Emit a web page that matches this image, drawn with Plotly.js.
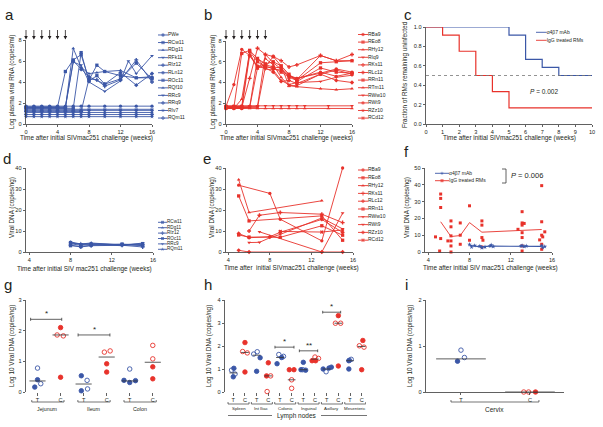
<!DOCTYPE html>
<html><head><meta charset="utf-8">
<script src="https://cdn.plot.ly/plotly-3.0.1.min.js"></script>
<style>html,body{margin:0;padding:0;background:#fff;}#chart{width:603px;height:427px;}</style>
</head><body><div id="chart"></div>
<script>
const n = null;
// ---------------- DATA ----------------
const WEEKS_AB = [0,1,2,3,4,5,6,7,8,9,10,12,13,14,16];
const CHALLENGE_WEEKS = [0,1,2,3,4,5];

// panel a : alpha4beta7 treated, log plasma viral RNA
const NAMES_A = ['PWe','RCw11','RDg11','RFk11','RIz12','RLn12','ROc11','RQf10','RRc9','RRq9','RIv7','RQm11'];
const A_PWE   = [1.7,1.7,1.7,1.7,1.7,1.7,1.7,1.7,1.7,n,1.7,1.7,n,1.7,1.7];
const A_RCW11 = [1.6,1.6,1.6,1.6,1.6,5.0,6.1,6.6,4.2,5.6,5.0,4.6,n,4.4,4.4];
const A_RDG11 = [1.5,1.5,1.5,1.5,1.5,1.5,7.2,5.4,4.8,4.9,5.0,5.1,n,4.4,4.5];
const A_RFK11 = [1.4,1.4,1.4,1.4,1.4,1.4,1.4,1.4,1.4,n,1.4,1.4,n,1.4,1.4];
const A_RIZ12 = [1.6,1.6,1.6,1.6,1.6,1.6,6.0,5.2,4.5,n,3.8,4.9,n,3.7,4.8];
const A_RLN12 = [1.3,1.3,1.3,1.3,1.3,1.3,1.3,1.3,1.3,n,1.3,1.3,n,1.3,1.3];
const A_ROC11 = [1.5,1.5,1.5,1.5,1.5,1.5,1.5,6.8,4.1,4.6,3.8,4.3,n,5.8,4.3];
const A_RQF10 = [1.1,1.1,1.1,1.1,1.1,1.1,1.1,1.1,1.1,n,1.1,1.1,n,1.1,1.1];
const A_RRC9  = [1.6,1.6,1.6,1.6,1.6,1.6,5.9,5.6,4.0,n,3.1,4.1,6.0,4.8,6.5];
const A_RRQ9  = [0.9,0.9,0.9,0.9,0.9,0.9,0.9,0.9,0.9,n,0.9,0.9,n,0.9,0.9];
const A_RIV7  = [0.7,0.7,0.7,0.7,0.7,0.7,0.7,0.7,0.7,n,0.7,0.7,n,0.7,0.7];
const A_RQM11 = [1.2,1.2,1.2,1.2,1.2,1.2,1.2,1.2,4.3,4.2,3.6,4.2,n,6.1,4.0];

// panel b : IgG treated, log plasma viral RNA
const NAMES_B = ['RBa9','REo8','RHy12','RIq9','RKs11','RLc12','RRn11','RTm11','RWw10','RWt9','RZz10','RCd12'];
const B_RBA9  = [1.7,3.8,7.2,6.6,5.6,5.6,5.3,5.2,4.6,4.4,n,4.9,n,5.3,5.0];
const B_REO8  = [1.6,1.6,6.8,7.1,6.3,5.8,6.0,5.6,4.8,4.1,n,5.4,n,5.0,4.9];
const B_RHY12 = [1.5,1.5,2.4,6.9,5.3,6.3,5.7,4.5,3.7,3.6,n,3.4,n,3.3,3.4];
const B_RIQ9  = [1.75,1.75,1.75,1.75,1.75,1.75,1.75,1.75,1.75,1.75,1.75,n,1.75,n,1.75];
const B_RKS11 = [1.6,1.6,1.6,4.4,7.3,6.7,6.5,6.1,5.5,5.7,n,6.6,n,6.1,6.7];
const B_RLC12 = [1.5,1.5,1.5,6.6,5.5,5.4,5.0,4.1,4.2,3.9,n,4.8,n,4.2,4.0];
const B_RRN11 = [1.7,1.7,1.7,7.0,6.0,5.5,5.4,5.0,4.5,4.2,n,5.9,n,6.0,6.1];
const B_RTM11 = [1.5,1.5,1.5,1.5,1.5,1.5,1.5,1.5,1.5,1.5,1.5,n,1.5,n,1.5];
const B_RWW10 = [1.6,1.6,1.6,1.6,6.4,5.3,5.2,4.2,3.8,4.0,n,4.1,n,4.5,4.7];
const B_RWT9  = [1.5,1.5,1.5,1.6,5.4,5.7,5.5,5.4,4.7,4.4,n,5.0,n,4.6,4.9];
const B_RZZ10 = [1.7,1.7,1.7,1.7,1.7,6.7,5.9,5.3,4.6,4.3,n,6.6,n,6.1,6.1];
const B_RCD12 = [1.6,1.6,1.6,1.6,1.6,5.5,6.5,5.6,3.7,3.7,n,4.8,n,5.2,4.8];

// panel c : Kaplan-Meier
const KM_A_WEEKS = [0,5,6,7,8,10];
const KM_A_FRAC  = [1,0.917,0.667,0.583,0.5,0.5];
const KM_G_WEEKS = [0,1,2,3,4,5,10];
const KM_G_FRAC  = [1,0.917,0.75,0.5,0.333,0.167,0.167];
const KM_NAMES = ['\u03b14\u03b27 mAb','IgG treated RMs'];
const P_C = 'P = 0.002';

// panel d : alpha4beta7 viral DNA
const NAMES_D = ['RCw11','RDg11','RIz12','ROc11','RRc9','RQm11'];
const D_WEEKS = [8,9,10,13,15];
const D_RCW11 = [4.5,3.5,3.8,3.5,4.0];
const D_RDG11 = [4.8,3.8,4.3,3.3,3.6];
const D_RIZ12 = [3.3,2.4,3.0,3.2,2.4];
const D_ROC11 = [3.0,2.6,3.2,3.8,3.0];
const D_RRC9  = [3.9,3.2,3.6,3.0,4.3];
const D_RQM11 = [4.2,3.9,4.0,3.6,3.2];

// panel e : IgG viral DNA
const NAMES_E = ['RBa9','REo8','RHy12','RKs11','RLc12','RRn11','RWw10','RWt9','RZz10','RCd12'];
const E_WEEKS = [5,6,7,8,9,13,15];
const E_RBA9  = [31.8,n,n,27.9,15.6,5.3,40];
const E_REO8  = [26.7,14.8,n,n,n,17.2,5.6];
const E_RHY12 = [34.4,18.8,n,n,n,24.4,n];
const E_RKS11 = [n,10,17.5,n,18.8,18,14];
const E_RLC12 = [8.8,6.8,n,7.3,9.4,15.5,9.3];
const E_RRN11 = [8.1,7.1,n,n,7.0,12.5,8.0];
const E_RWW10 = [n,4.5,4.6,6.8,8.4,16.2,11];
const E_RWT9  = [n,n,9.6,n,n,0,18.5];
const E_RZZ10 = [0.8,0,n,n,n,0,0];
const E_RCD12 = [n,n,n,n,9.8,9.5,10.5];

// panel f : pooled viral DNA
const F_RED_X = [4.7,5.2,5.2,5.2,5.2,5.1,5.9,6.2,6.2,6.2,6.2,6.2,6.2,7.1,7.1,7.1,8,8,9.2,9.2,9.2,9.3,9.2,12.7,13.1,13.1,13.1,13.3,13.1,13.1,13.1,13.1,14.8,15,15,15,15,15,15.3,15.1];
const F_RED_Y = [9,34.5,31.9,26.5,8,0.6,6.6,18.5,15,9.6,6.6,3.6,0,17.3,10,4.6,27.5,7,18.5,16,8.6,7,3,13.5,24,17.3,16,17,11.5,8.6,3.6,0.6,7.2,39.5,18,10,4.6,1.6,12,9];
const F_RED_MEAN_X = [5.2,6.2,7.1,8,9.2,13.1,15];
const F_RED_MEAN_Y = [18,9.2,9.8,17.5,11.8,12.8,13.4];
const F_BLUE_X = [8,8.2,8.5,9,9.2,9.5,10,10.1,10.3,13,13.1,13.3,13.5,15,15.1,15.3];
const F_BLUE_Y = [4.5,3,3.8,3.5,2.5,3,3.5,4.2,3.3,3.5,3.8,3.2,3.6,3.8,2.6,3.2];
const F_BLUE_MEAN_X = [8,9,10,13,15];
const F_BLUE_MEAN_Y = [4,3.1,3.5,3.4,3.3];
const P_F = 'P = 0.006';

// panel g : gut tissues (T = alpha4beta7, C = control IgG)
const G_TICKS = ['T','C','T','C','T','C'];
const G_GROUPS = ['Jejunum','Ileum','Colon'];
const G_CAT    = [0,0,0,0, 1,1,1,1, 2,2,2,2, 3,3,3,3, 4,4,4,4, 5,5,5,5];
const G_DX     = [-0.12,0,0,0.14, -0.15,0,0.12,0, -0.1,-0.1,0.15,0.17, -0.1,0.15,0,0, 0,-0.25,0,0.25, 0,0,0,0];
const G_VAL    = [0.16,0.40,0.78,0.27, 1.86,2.10,1.83,0.48, 0.53,0.04,0.38,0.10, 1.30,1.34,0.92,0.65, 0.75,0.38,0.31,0.37, 1.52,1.08,0.82,0.43];
const G_FILLED = [1,1,0,0, 0,1,0,1, 1,1,0,0, 0,0,1,1, 0,1,1,1, 0,0,1,1];
const G_MEAN   = [0.36,1.86,0.26,1.14,0.36,0.97];

// panel h : lymph nodes
const H_TICKS = ['T','C','T','C','T','C','T','C','T','C','T','C'];
const H_GROUPS = ['Spleen','Int Iliac','Colonic','Inguinal','Axillary','Mesenteric'];
const H_CAT    = [0,0,0,0, 1,1,1,1, 2,2,2,2, 3,3,3,3, 4,4,4,4, 5,5,5,5, 6,6,6,6, 7,7,7,7, 8,8,8,8, 9,9,9,9, 10,10,10,10, 11,11,11,11];
const H_DX     = [0.05,0,-0.15,0.15, 0,-0.2,0.2,0, -0.25,0.05,0.3,0, 0,-0.15,0.2,-0.1, -0.1,0.3,-0.25,0.15, -0.2,0.2,0,0, 0,-0.2,0.2,-0.05, 0,0.3,-0.25,0.05, -0.3,-0.05,0.2,0.4, 0,-0.25,0.2,0, -0.1,0.1,-0.05,-0.1, 0.1,-0.2,0.2,0];
const H_VAL    = [1.03,0.66,0.95,0.78, 2.15,1.76,1.70,0.87, 1.65,1.75,1.49,0.90, 1.27,0.70,0.70,0.02, 1.63,1.55,1.23,1.50, 0.97,0.97,0.53,0.16, 1.29,0.97,0.95,0.97, 1.52,1.46,1.36,1.36, 1.00,0.88,1.04,1.08, 3.32,2.99,2.99,1.13, 1.36,1.42,1.38,1.00, 2.24,2.01,1.95,0.97];
const H_FILLED = [1,1,0,0, 1,0,0,1, 0,0,1,1, 1,1,0,0, 0,0,1,1, 1,1,0,0, 1,1,1,0, 0,0,1,1, 1,0,1,1, 1,0,0,1, 1,0,0,1, 1,0,0,1];
const H_MEAN   = [0.83,1.72,1.60,0.70,1.50,0.53,0.97,1.43,1.00,2.99,1.36,1.98];

// panel i : cervix
const I_TICKS = ['T','C'];
const I_GROUPS = ['Cervix'];
const I_CAT    = [0,0,0, 1,1,1];
const I_DX     = [0,0.05,-0.05, -0.09,-0.02,0.08];
const I_VAL    = [0.91,0.75,0.67, 0,0,0];
const I_FILLED = [0,0,1, 0,0,1];
const I_MEAN   = [0.72,0];

// ---------------- STYLE ----------------
const BLUE = '#3b57a7', RED = '#e8322b', INK = '#231f20', AX = '#3a3a3a';
const FONT = 'Liberation Sans, Arial, sans-serif';
const W = 603, H = 427;
const pxX = v => v / W, pxY = v => 1 - v / H;
const dom = (a, b) => [a / W, b / W];
const domY = (top, bot) => [1 - bot / H, 1 - top / H];

const SYM_A = ['circle','square','triangle-up','triangle-down','diamond','circle','square','triangle-up','triangle-down','diamond','star','cross'];
const SYM_B = ['circle','square','triangle-up','triangle-down','cross','diamond','square','triangle-up','triangle-down','circle','star','x'];
const SYM_D = ['square','triangle-up','cross','square','triangle-down','star'];
const SYM_E = ['circle','square','triangle-up','cross','diamond','square','triangle-down','triangle-down','diamond','x'];

const traces = [];
const shapes = [];
const annotations = [];
const layout = {
  width: W, height: H, margin: {l:0, r:0, t:0, b:0},
  paper_bgcolor: '#fff', plot_bgcolor: 'rgba(0,0,0,0)',
  showlegend: false, font: {family: FONT, size: 6, color: INK},
  shapes, annotations
};

function axisStyle(extra) {
  return Object.assign({
    showline: true, linecolor: AX, linewidth: 0.8, ticks: 'outside', ticklen: 2.5,
    tickwidth: 0.8, tickcolor: AX, tickfont: {size: 5.6, color: INK, family: FONT},
    ticklabelstandoff: -1.5,
    zeroline: false, showgrid: false, fixedrange: true
  }, extra);
}
function setAxes(k, xd, yd, xExtra, yExtra) {
  const xs = k === 1 ? '' : String(k);
  layout['xaxis' + xs] = axisStyle(Object.assign({domain: xd, anchor: 'y' + xs}, xExtra));
  layout['yaxis' + xs] = axisStyle(Object.assign({domain: yd, anchor: 'x' + xs}, yExtra));
}
const xa = k => k === 1 ? 'x' : 'x' + k;
const ya = k => k === 1 ? 'y' : 'y' + k;

function note(text, x, y, size, opts) {
  annotations.push(Object.assign({text, xref: 'paper', yref: 'paper', x: pxX(x), y: pxY(y), borderpad: 0,
    showarrow: false, font: {size, color: INK, family: FONT}, xanchor: 'center', yanchor: 'middle'}, opts || {}));
}

// legend built on hidden axes so rows can be tightly spaced
function legendBlock(k, names, symbols, colors, x0, yFirst, spacing, keyW, msize, fsize) {
  const nI = names.length;
  const widthPx = 62;
  layout['xaxis' + k] = {domain: dom(x0, x0 + widthPx), range: [0, widthPx / keyW], visible: false, fixedrange: true, anchor: 'y' + k};
  layout['yaxis' + k] = {domain: domY(yFirst - spacing / 2, yFirst + (nI - 1) * spacing + spacing / 2),
    range: [-(nI - 1) - 0.5, 0.5], visible: false, fixedrange: true, anchor: 'x' + k};
  names.forEach((nm, i) => {
    traces.push({x: [0, 0.5, 1], y: [-i, -i, -i], xaxis: 'x' + k, yaxis: 'y' + k,
      mode: 'lines+markers+text', text: ['', '', nm], textposition: 'middle right',
      textfont: {size: fsize, color: INK, family: FONT}, cliponaxis: false, hoverinfo: 'skip',
      line: {color: colors[i], width: 0.9},
      marker: {symbol: symbols ? symbols[i] : 'circle', size: [0, symbols ? msize : 0, 0], color: colors[i], line: {width: 0, color: colors[i]}}});
  });
}

function lineSeries(k, xs, series, names, symbols, color, msize) {
  series.forEach((ys, i) => traces.push({x: xs, y: ys, name: names[i], xaxis: xa(k), yaxis: ya(k),
    mode: 'lines+markers', connectgaps: true, cliponaxis: false,
    line: {color, width: 0.9}, marker: {symbol: symbols[i], size: msize, color, line: {width: 0, color}}}));
}

// ---------- panel a ----------
setAxes(1, dom(26, 152), domY(40, 124), {range: [0, 16], tickvals: [0,4,8,12,16]}, {range: [0, 8], tickvals: [0,2,4,6,8]});
lineSeries(1, WEEKS_AB, [A_PWE,A_RCW11,A_RDG11,A_RFK11,A_RIZ12,A_RLN12,A_ROC11,A_RQF10,A_RRC9,A_RRQ9,A_RIV7,A_RQM11], NAMES_A, SYM_A, BLUE, 3.3);
legendBlock(10, NAMES_A, SYM_A, NAMES_A.map(() => BLUE), 158, 35, 7.55, 10, 3.3, 5);
// ---------- panel b ----------
setAxes(2, dom(226, 352), domY(41, 124), {range: [0, 16], tickvals: [0,4,8,12,16]}, {range: [0, 8], tickvals: [0,2,4,6,8]});
lineSeries(2, WEEKS_AB, [B_RBA9,B_REO8,B_RHY12,B_RIQ9,B_RKS11,B_RLC12,B_RRN11,B_RTM11,B_RWW10,B_RWT9,B_RZZ10,B_RCD12], NAMES_B, SYM_B, RED, 3.3);
legendBlock(11, NAMES_B, SYM_B, NAMES_B.map(() => RED), 358, 34.5, 7.6, 10, 3.3, 5);
// challenge arrows
[1, 2].forEach(k => CHALLENGE_WEEKS.forEach(w => annotations.push({text: '', xref: xa(k), yref: 'paper', x: w, y: pxY(39.5),
  ax: 0, ay: -11, showarrow: true, arrowhead: 2, arrowsize: 0.9, arrowwidth: 0.8, arrowcolor: INK})));

// ---------- panel c ----------
setAxes(3, dom(426, 592), domY(27, 124), {range: [0, 10], dtick: 1}, {range: [0, 1], dtick: 0.2, tickformat: '.1f'});
shapes.push({type: 'line', xref: 'x3', yref: 'y3', x0: 0, x1: 10, y0: 0.5, y1: 0.5, line: {color: '#777', width: 0.8, dash: 'dot'}});
traces.push({x: KM_A_WEEKS, y: KM_A_FRAC, xaxis: 'x3', yaxis: 'y3', mode: 'lines', line: {shape: 'hv', color: BLUE, width: 1.2}, cliponaxis: false});
traces.push({x: KM_G_WEEKS, y: KM_G_FRAC, xaxis: 'x3', yaxis: 'y3', mode: 'lines', line: {shape: 'hv', color: RED, width: 1.2}, cliponaxis: false});
legendBlock(12, KM_NAMES, null, [BLUE, RED], 536, 32.3, 8, 10.7, 0, 5);
note('<i>P</i>' + P_C.slice(1), 544, 91, 6.5);

// ---------- panel d ----------
setAxes(4, dom(26, 153), domY(168, 252), {range: [3.68, 16], tickvals: [4,8,12,16]}, {range: [0, 40], tickvals: [0,10,20,30,40]});
lineSeries(4, D_WEEKS, [D_RCW11,D_RDG11,D_RIZ12,D_ROC11,D_RRC9,D_RQM11], NAMES_D, SYM_D, BLUE, 3.3);
legendBlock(13, NAMES_D, SYM_D, NAMES_D.map(() => BLUE), 158, 222.3, 5.4, 9, 3, 4.6);

// ---------- panel e ----------
setAxes(5, dom(226, 353), domY(168, 252), {range: [3.78, 16], tickvals: [4,8,12,16]}, {range: [0, 40], tickvals: [0,10,20,30,40]});
lineSeries(5, E_WEEKS, [E_RBA9,E_REO8,E_RHY12,E_RKS11,E_RLC12,E_RRN11,E_RWW10,E_RWT9,E_RZZ10,E_RCD12], NAMES_E, SYM_E, RED, 3.3);
legendBlock(14, NAMES_E, SYM_E, NAMES_E.map(() => RED), 358, 170, 7.8, 10, 3.3, 5);

// ---------- panel f ----------
setAxes(6, dom(425, 552), domY(168, 252), {range: [3.68, 16], tickvals: [4,8,12,16]}, {range: [0, 50], tickvals: [0,10,20,30,40,50]});
traces.push({x: F_RED_X, y: F_RED_Y, xaxis: 'x6', yaxis: 'y6', mode: 'markers', cliponaxis: false, marker: {symbol: 'square', size: 3, color: RED}});
traces.push({x: F_RED_MEAN_X, y: F_RED_MEAN_Y, xaxis: 'x6', yaxis: 'y6', mode: 'lines', line: {color: RED, width: 0.9}});
traces.push({x: F_BLUE_X, y: F_BLUE_Y, xaxis: 'x6', yaxis: 'y6', mode: 'markers', cliponaxis: false, marker: {symbol: 'star', size: 3.5, color: BLUE}});
traces.push({x: F_BLUE_MEAN_X, y: F_BLUE_MEAN_Y, xaxis: 'x6', yaxis: 'y6', mode: 'lines', line: {color: BLUE, width: 1.2}});
legendBlock(15, KM_NAMES, ['star', 'square'], [BLUE, RED], 435, 173.3, 7.4, 14, 3, 5);
shapes.push({type: 'path', xref: 'paper', yref: 'paper', path: `M ${pxX(502)},${pxY(169)} L ${pxX(506)},${pxY(169)} L ${pxX(506)},${pxY(183)} L ${pxX(502)},${pxY(183)}`, line: {color: AX, width: 0.8}});
note('<i>P</i>' + P_F.slice(1), 527, 175, 7.5);

// ---------- dot plots g, h, i ----------
function dotPanel(k, cat, dx, val, filled, means, halfW, msize, colorOf) {
  [1, 0].forEach(f => {
    [BLUE, RED].forEach(col => {
      const idx = cat.map((c, i) => i).filter(i => filled[i] === f && colorOf(cat[i]) === col);
      traces.push({x: idx.map(i => cat[i] + dx[i]), y: idx.map(i => val[i]), xaxis: xa(k), yaxis: ya(k),
        mode: 'markers', cliponaxis: false,
        marker: {symbol: f ? 'circle' : 'circle-open', size: msize, color: col, line: {width: 0.9, color: col}}});
    });
  });
  const mx = [], my = [];
  means.forEach((m, c) => { mx.push(c - halfW, c + halfW, null); my.push(m, m, null); });
  traces.push({x: mx, y: my, xaxis: xa(k), yaxis: ya(k), mode: 'lines', cliponaxis: false, line: {color: '#333', width: 0.8}});
}
function groupBracket(k, x0, x1, yPx, label, labelY, fsize) {
  shapes.push({type: 'path', xref: xa(k), yref: 'paper', line: {color: AX, width: 0.7},
    path: `M ${x0},${pxY(yPx - 2)} L ${x0},${pxY(yPx)} L ${x1},${pxY(yPx)} L ${x1},${pxY(yPx - 2)}`});
  annotations.push({text: label, xref: xa(k), yref: 'paper', x: (x0 + x1) / 2, y: pxY(labelY), showarrow: false, borderpad: 0,
    font: {size: fsize, color: INK, family: FONT}, xanchor: 'center', yanchor: 'middle'});
}
function sigBracket(k, x0, x1, y, star, capU) {
  shapes.push({type: 'path', xref: xa(k), yref: ya(k), line: {color: AX, width: 0.8},
    path: `M ${x0},${y - capU} L ${x0},${y + capU} M ${x0},${y} L ${x1},${y} M ${x1},${y - capU} L ${x1},${y + capU}`});
  annotations.push({text: star, xref: xa(k), yref: ya(k), x: (x0 + x1) / 2, y: y, yshift: 0, showarrow: false, borderpad: 0,
    font: {size: 8, color: INK, family: FONT}, xanchor: 'center', yanchor: 'bottom'});
}
const tcColor = c => (c % 2 === 0 ? BLUE : RED);

// panel g
setAxes(7, dom(26, 162), domY(300, 392), {range: [-0.5, 5.4], showline: false, tickvals: G_TICKS.map((t, i) => i), ticktext: G_TICKS},
  {range: [0, 3], tickvals: [0,1,2,3]});
dotPanel(7, G_CAT, G_DX, G_VAL, G_FILLED, G_MEAN, 0.35, 4.5, tcColor);
G_GROUPS.forEach((g, j) => groupBracket(7, 2 * j - 0.25, 2 * j + 1 + 0.15, 402, g, 409, 5.3));
sigBracket(7, -0.3, 1.05, 2.37, '*', 0.05);
sigBracket(7, 1.76, 3.14, 1.86, '*', 0.05);

// panel h
setAxes(8, dom(225, 366), domY(300, 392), {range: [-0.71, 11.37], showline: false, tickvals: H_TICKS.map((t, i) => i), ticktext: H_TICKS},
  {range: [0, 4], tickvals: [0,1,2,3,4]});
dotPanel(8, H_CAT, H_DX, H_VAL, H_FILLED, H_MEAN, 0.33, 4.5, tcColor);
H_GROUPS.forEach((g, j) => groupBracket(8, 2 * j - 0.45, 2 * j + 1 + 0.35, 404, g, 408.5, 4.4));
sigBracket(8, 3.57, 5.2, 1.95, '*', 0.06);
sigBracket(8, 5.66, 7.23, 1.79, '**', 0.06);
sigBracket(8, 7.66, 9.2, 3.47, '*', 0.06);
shapes.push({type: 'line', xref: 'paper', yref: 'paper', x0: pxX(228), x1: pxX(272), y0: pxY(415.5), y1: pxY(415.5), line: {color: AX, width: 0.7}});
shapes.push({type: 'line', xref: 'paper', yref: 'paper', x0: pxX(321), x1: pxX(367), y0: pxY(415.5), y1: pxY(415.5), line: {color: AX, width: 0.7}});
note('Lymph nodes', 296.5, 416, 6.5);

// panel i
setAxes(9, dom(426, 564), domY(300, 392), {range: [-0.507, 1.493], tickvals: [0, 1], ticktext: I_TICKS}, {range: [0, 2], tickvals: [0,1,2]});
dotPanel(9, I_CAT, I_DX, I_VAL, I_FILLED, I_MEAN, 0.36, 4.5, tcColor);
groupBracket(9, -0.145, 1.13, 402, I_GROUPS[0], 409.5, 6.5);

// ---------- axis titles ----------
const TX = 'Time after initial SIVmac251 challenge (weeks)';
const TX2 = 'Time after initial SIV mac251 challenge (weeks)';
note(TX, 86, 138, 6.4); note(TX, 286, 138, 6.4); note(TX, 509, 137.5, 6.4);
note(TX2, 84, 268.5, 6.4); note('Time after  initial SIVmac251 challenge (weeks)', 291, 268, 6.4); note(TX2, 490, 268, 6.4);
const rot = {textangle: -90};
note('Log plasma viral RNA (copies/ml)', 12, 82, 6.4, rot);
note('Log plasma viral RNA (copies/ml)', 213, 82, 6.4, rot);
note('Fraction of RMs remaining uninfected', 405, 75, 6.4, rot);
note('Viral DNA (copies/ng)', 12, 208, 6.4, rot);
note('Viral DNA (copies/ng)', 212, 208, 6.4, rot);
note('Viral DNA (copies/ng)', 407, 208, 6.4, rot);
note('Log 10 Viral DNA (copies/ng)', 12, 346, 6.4, rot);
note('Log 10 Viral DNA (copies/ng)', 209, 346, 6.4, rot);
note('Log 10 Viral DNA (copies/ng)', 410, 346, 6.4, rot);

// ---------- panel letters ----------
[['a',4,14],['b',203,14],['c',403,14],['d',2,158],['e',202,158],['f',403,152],['g',3,284],['h',203,284],['i',404,284]]
  .forEach(([t, x, y]) => note(t, x, y, 15, {xanchor: 'left'}));

Plotly.newPlot('chart', traces, layout, {staticPlot: true, displayModeBar: false});
</script></body></html>
